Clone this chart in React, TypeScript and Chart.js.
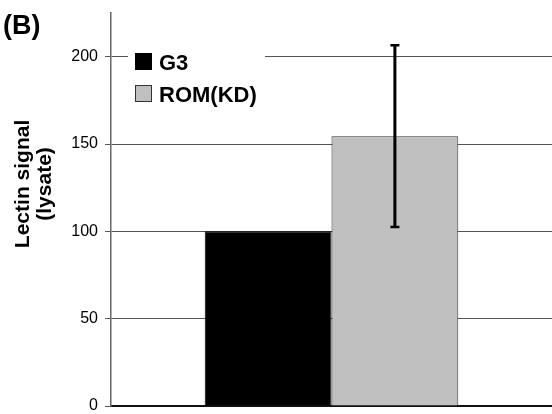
import React, { useEffect, useRef } from "react";
import { Chart, registerables } from "chart.js";

Chart.register(...registerables);

const categories = [""];
const seriesLabels = ["G3", "ROM(KD)"];
const g3Values = [100];
const romValues = [154.5];
const g3Errors = [0];
const romErrors = [52];
const yTickValues = [0, 50, 100, 150, 200];
const yMax = 225;
const panelLabel = "(B)";
const yTitleLines = ["Lectin signal", "(lysate)"];

const FONT = "'Liberation Sans', Arial, Helvetica, sans-serif";

const errorBarPlugin = {
  id: "errorBars",
  afterDatasetsDraw(chart: any) {
    const ctx = chart.ctx;
    const yScale = chart.scales.y;
    const errs = [g3Errors, romErrors];
    chart.data.datasets.forEach((ds: any, di: number) => {
      const meta = chart.getDatasetMeta(di);
      meta.data.forEach((bar: any, i: number) => {
        const e = errs[di][i];
        if (!e) return;
        const v = ds.data[i];
        const yTop = yScale.getPixelForValue(v + e);
        const yBot = yScale.getPixelForValue(v - e);
        const x = bar.x;
        ctx.save();
        ctx.strokeStyle = "#000";
        ctx.lineWidth = 3;
        ctx.beginPath();
        ctx.moveTo(x, yTop);
        ctx.lineTo(x, yBot);
        ctx.stroke();
        ctx.lineWidth = 2.5;
        ctx.beginPath();
        ctx.moveTo(x - 4.5, yTop);
        ctx.lineTo(x + 4.5, yTop);
        ctx.moveTo(x - 4.5, yBot);
        ctx.lineTo(x + 4.5, yBot);
        ctx.stroke();
        ctx.restore();
      });
    });
  },
};

const decorPlugin = {
  id: "decor",
  afterDraw(chart: any) {
    const ctx = chart.ctx;
    const area = chart.chartArea;
    ctx.save();
    // panel label
    ctx.fillStyle = "#000";
    ctx.font = `bold 27px ${FONT}`;
    ctx.textAlign = "left";
    ctx.textBaseline = "alphabetic";
    ctx.fillText(panelLabel, 3, 34);

    // y title
    const cy = area.top + (area.bottom - area.top) * 0.435;
    ctx.save();
    ctx.translate(0, cy);
    ctx.rotate(-Math.PI / 2);
    ctx.font = `bold 21px ${FONT}`;
    ctx.textAlign = "center";
    ctx.fillText(yTitleLines[0], 0, 29);
    ctx.fillText(yTitleLines[1], 0, 51);
    ctx.restore();

    // legend
    const lx = area.left + 17;
    const ly = area.top + 31;
    ctx.fillStyle = "#fff";
    ctx.fillRect(area.left + 17, ly, 137, 66);
    ctx.font = `bold 22px ${FONT}`;
    ctx.textAlign = "left";
    chart.data.datasets.forEach((ds: any, i: number) => {
      const by = ly + 9 + i * 32;
      ctx.fillStyle = ds.backgroundColor;
      ctx.fillRect(lx + 7, by, 17, 17);
      ctx.strokeStyle = ds.borderColor;
      ctx.lineWidth = 1;
      ctx.strokeRect(lx + 7.5, by + 0.5, 16, 16);
      ctx.fillStyle = "#000";
      ctx.fillText(ds.label, lx + 31, by + 17);
    });
    ctx.restore();
  },
};

export default function App() {
  const ref = useRef<HTMLCanvasElement | null>(null);
  useEffect(() => {
    if (!ref.current) return;
    const chart = new Chart(ref.current, {
      type: "bar",
      data: {
        labels: categories,
        datasets: [
          {
            label: seriesLabels[0],
            data: g3Values,
            backgroundColor: "#000000",
            borderColor: "#000000",
            borderWidth: 1,
            categoryPercentage: 0.575,
            barPercentage: 1,
          },
          {
            label: seriesLabels[1],
            data: romValues,
            backgroundColor: "#c0c0c0",
            borderColor: "#333333",
            borderWidth: 1,
            categoryPercentage: 0.575,
            barPercentage: 1,
          },
        ],
      },
      options: {
        animation: false,
        responsive: false,
        maintainAspectRatio: false,
        layout: { padding: { top: 13, right: 0, bottom: 0, left: 0 } },
        plugins: {
          legend: { display: false },
          tooltip: { enabled: false },
          title: { display: false },
        },
        scales: {
          x: {
            ticks: { display: false },
            grid: { display: false },
            border: { display: true, color: "#111", width: 2 },
            afterFit: (s: any) => {
              s.height = 8;
              s.paddingLeft = 0;
              s.paddingRight = 0;
            },
          },
          y: {
            min: 0,
            max: yMax,
            afterBuildTicks: (axis: any) => {
              axis.ticks = yTickValues.map((v) => ({ value: v }));
            },
            afterFit: (s: any) => {
              s.width = 111;
              s.paddingTop = 0;
              s.paddingBottom = 0;
            },
            ticks: {
              color: "#000",
              padding: 7,
              font: { family: FONT, size: 16 },
            },
            grid: {
              color: "#555",
              lineWidth: 1,
              tickLength: 6,
              tickColor: "#555",
              drawTicks: true,
            },
            border: { display: true, color: "#666", width: 1.5 },
          },
        },
      },
      plugins: [errorBarPlugin, decorPlugin],
    });
    return () => chart.destroy();
  }, []);
  return (
    <div style={{ position: "absolute", left: 0, top: 0, width: 552, height: 414 }}>
      <canvas ref={ref} width={552} height={414} style={{ display: "block" }} />
    </div>
  );
}
